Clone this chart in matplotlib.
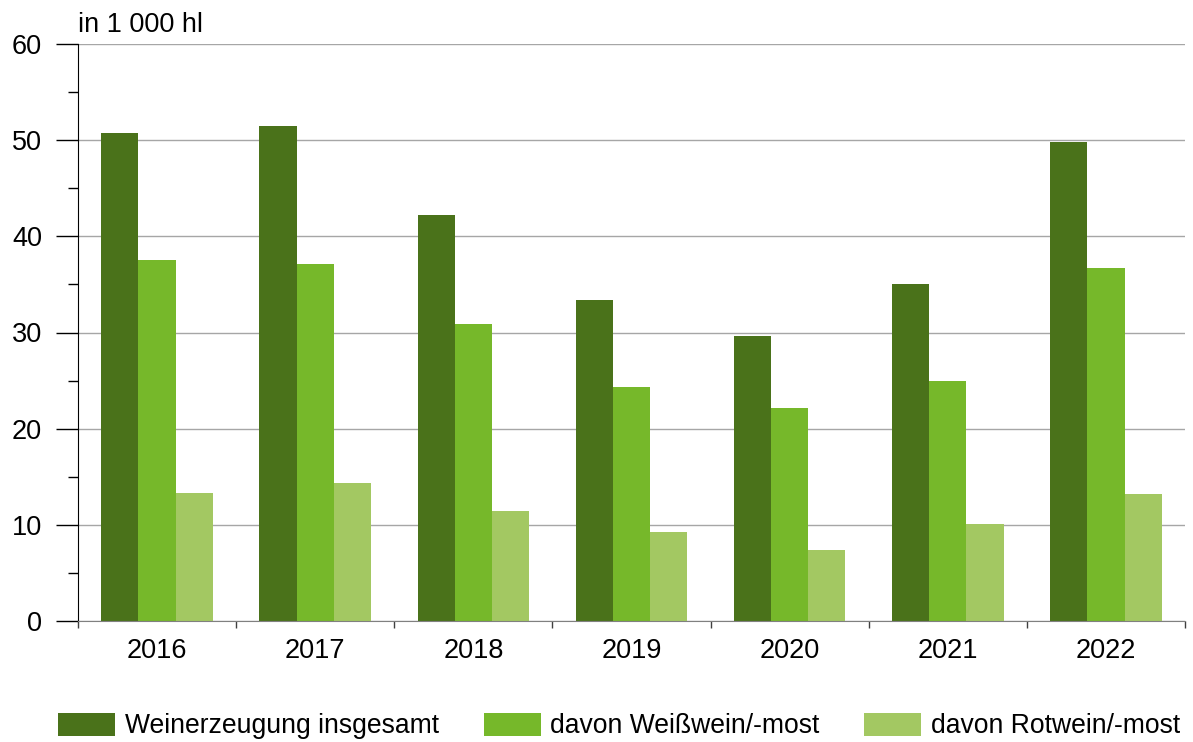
import matplotlib.pyplot as plt
import numpy as np

plt.rcParams['font.family'] = ['Liberation Sans', 'DejaVu Sans']

years = ['2016', '2017', '2018', '2019', '2020', '2021', '2022']
total = [50.7, 51.5, 42.2, 33.4, 29.6, 35.0, 49.8]
white = [37.5, 37.1, 30.9, 24.3, 22.2, 25.0, 36.7]
red = [13.3, 14.3, 11.4, 9.3, 7.4, 10.1, 13.2]

series_names = ['Weinerzeugung insgesamt', 'davon Weißwein/-most', 'davon Rotwein/-most']
colors = ['#4A721A', '#76B82A', '#A3C862']

fs = 19.5

fig = plt.figure(figsize=(11.93, 7.42), dpi=100)
ax = fig.add_axes([78 / 1193, 1 - 621 / 742, (1185 - 78) / 1193, (621 - 44) / 742])

x = np.arange(len(years))
w = 0.235
for i, (vals, name, c) in enumerate(zip([total, white, red], series_names, colors)):
    ax.bar(x + (i - 1) * w, vals, width=w, color=c, label=name, zorder=3)

ax.set_xlim(-0.5, len(years) - 0.5)
ax.set_ylim(0, 60)
ax.set_yticks(np.arange(0, 61, 10))
ax.set_yticks(np.arange(5, 60, 10), minor=True)
ax.tick_params(axis='y', which='major', length=16, width=1, color='black', labelsize=fs, pad=10)
ax.tick_params(axis='y', which='minor', length=7, width=1, color='black')
ax.yaxis.grid(True, which='major', color='#A6A6A6', linewidth=1.0, zorder=0)

ax.set_xticks(x)
ax.set_xticklabels(years)
ax.set_xticks(np.arange(-0.5, len(years), 1), minor=True)
ax.tick_params(axis='x', which='major', length=0, labelsize=fs, pad=12)
ax.tick_params(axis='x', which='minor', length=5, width=1, color='#404040')

for s in ['top', 'right']:
    ax.spines[s].set_visible(False)
ax.spines['left'].set_color('black')
ax.spines['bottom'].set_color('#808080')
ax.spines['bottom'].set_zorder(4)

fig.text(78 / 1193, 1 - 25 / 742, 'in 1 000 hl', fontsize=fs, ha='left', va='center')

fig.legend(loc='center left', bbox_to_anchor=(58 / 1193, 16 / 742), ncol=3, frameon=False,
           fontsize=19.1, handlelength=2.15, handleheight=1.0, columnspacing=1.68,
           handletextpad=0.37, borderpad=0, borderaxespad=0)

fig.savefig('out.png', dpi=100)
